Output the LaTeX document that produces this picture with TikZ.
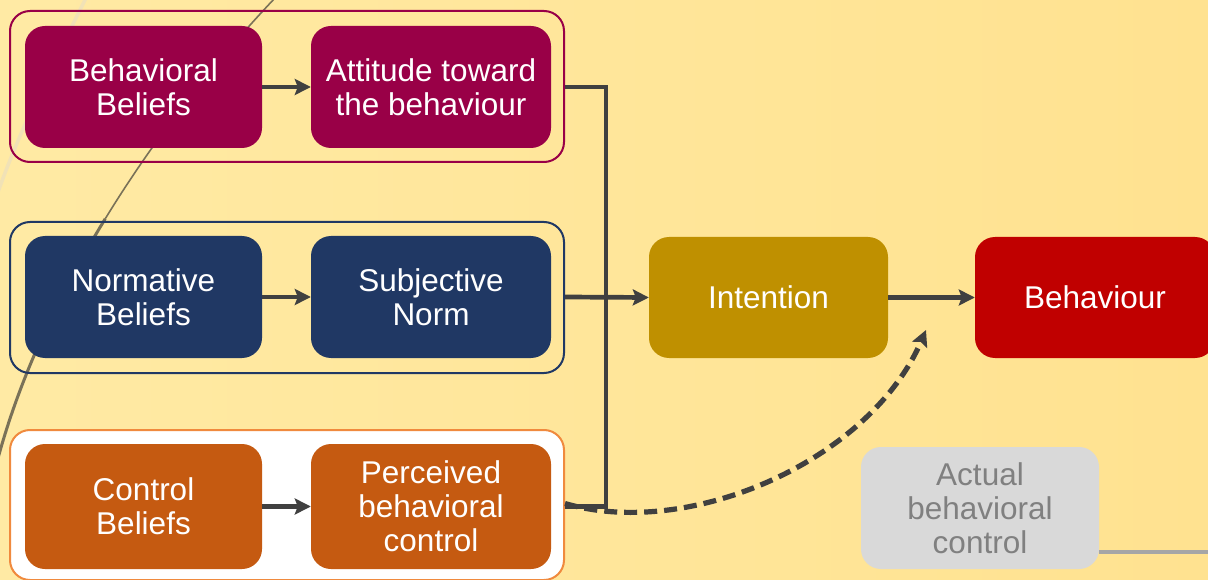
\documentclass[tikz,border=0pt]{standalone}
\usepackage{fontspec}
\setmainfont{Liberation Sans}
\usetikzlibrary{arrows.meta}
\definecolor{bgl}{HTML}{FFEAA4}
\definecolor{bgr}{HTML}{FFE290}
\definecolor{maroon}{HTML}{990047}
\definecolor{navy}{HTML}{203864}
\definecolor{burnt}{HTML}{C55A11}
\definecolor{frameorange}{HTML}{F08A3E}
\definecolor{gold}{HTML}{BF9000}
\definecolor{bred}{HTML}{C00000}
\definecolor{lgray}{HTML}{D9D9D9}
\definecolor{tgray}{HTML}{808080}
\definecolor{lgline}{HTML}{A6A6A6}
\definecolor{conn}{HTML}{404040}
\definecolor{curvedark}{HTML}{7A7258}
\definecolor{curvelight}{HTML}{F1E2B6}
\tikzset{
  box/.style={inner sep=0pt, rounded corners=20pt, text=white, align=center,
    font=\fontsize{31.5}{34}\selectfont},
  frame/.style={inner sep=0pt, rounded corners=20pt, line width=2pt},
  conline/.style={draw=conn, line width=4.7pt},
  tip/.style={-{Stealth[length=16pt,width=16pt,inset=3pt]}},
}
\begin{document}
\begin{tikzpicture}[x=1pt,y=-1pt]
\useasboundingbox (0,0) rectangle (1208,580);
\fill[left color=bgl, right color=bgr] (0,0) rectangle (1208,580);
% decorative background curves
\draw[curvelight, line width=3.5pt] (86,-2) .. controls (50,70) and (20,130) .. (-2,192);
\draw[curvedark, line width=1.6pt] (275,-2) .. controls (212.5,64) and (153.75,139.5) .. (105.25,218.75);
\draw[curvedark, line width=3pt] (105.25,218.75) .. controls (56.75,298) and (18.5,381) .. (-3,462);
% frames
\node[frame, draw=maroon, minimum width=554pt, minimum height=151pt] (f1) at (287,86.5) {};
\node[frame, draw=navy, minimum width=554pt, minimum height=151pt] (f2) at (287,297.5) {};
\node[frame, draw=frameorange, fill=white, minimum width=554pt, minimum height=150pt] (f3) at (287,505) {};
% boxes
\node[box, fill=maroon, minimum width=237pt, minimum height=122pt] (bb) at (143.5,87) {Behavioral\\Beliefs};
\node[box, fill=maroon, minimum width=240pt, minimum height=122pt] (att) at (431,87) {Attitude toward\\the behaviour};
\node[box, fill=navy, minimum width=237pt, minimum height=122pt] (nb) at (143.5,297) {Normative\\Beliefs};
\node[box, fill=navy, minimum width=240pt, minimum height=122pt] (sn) at (431,297) {Subjective\\Norm};
\node[box, fill=burnt, minimum width=237pt, minimum height=125pt] (cb) at (143.5,506.5) {Control\\Beliefs};
\node[box, fill=burnt, minimum width=240pt, minimum height=125pt] (pbc) at (431,506.5) {Perceived\\behavioral\\control};
\node[box, fill=gold, minimum width=239pt, minimum height=121pt] (int) at (768.5,297.5) {Intention};
\node[box, fill=bred, minimum width=240pt, minimum height=121pt] (beh) at (1095,297.5) {Behaviour};
\node[box, fill=lgray, text=tgray, minimum width=238pt, minimum height=122pt] (abc) at (980,508) {Actual\\behavioral\\control};
% connectors
\coordinate (bus) at (606,297);
\coordinate (edge) at (1210,552);
\draw[conline, tip] (bb) -- (att);
\draw[conline, tip] (nb) -- (sn);
\draw[conline, tip] (cb) -- (pbc);
\draw[conline] (f1.east |- att.east) -| (bus) |- (f3.east |- pbc.east);
\draw[conline, tip] (f2.east |- sn.east) -- (int.west);
\draw[conline, tip] (int) -- (beh);
\coordinate (dashend) at (926,330);
\draw[conline, line width=5.2pt, dash pattern=on 13pt off 7pt, tip]
  ([yshift=3pt]f3.east |- pbc.east) .. controls (690,540) and (870,460) .. (dashend);
\draw[lgline, line width=4pt] (abc.east |- edge) -- (edge);
\end{tikzpicture}
\end{document}
